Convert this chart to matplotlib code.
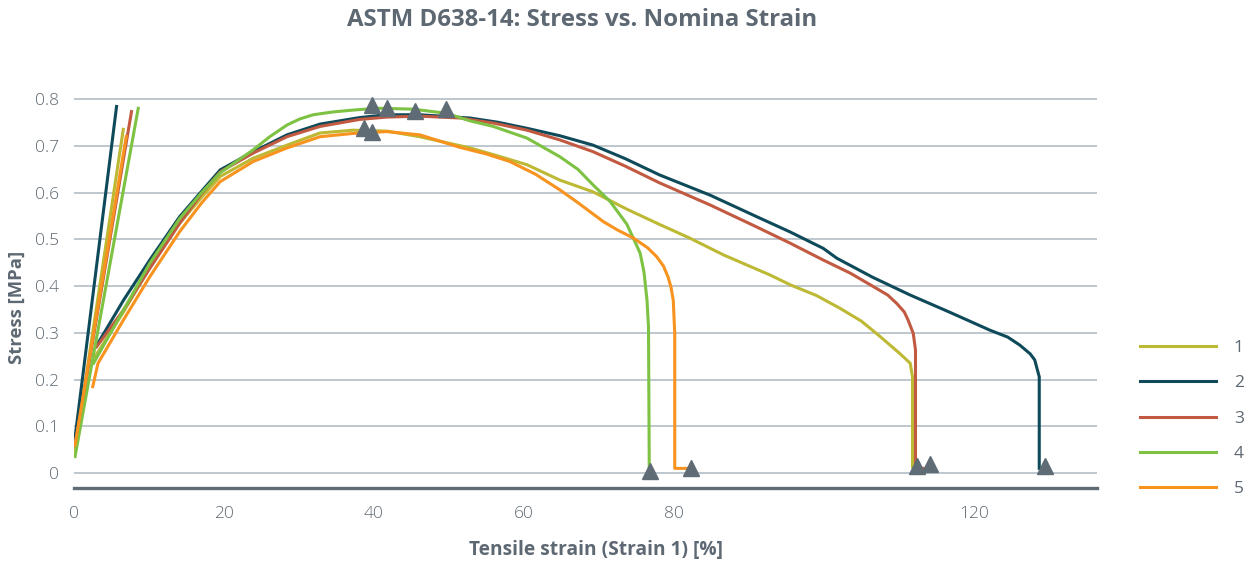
import matplotlib
matplotlib.use("Agg")
import matplotlib.pyplot as plt
import numpy as np

# ---------------- data ----------------
series_labels = ["1", "2", "3", "4", "5"]
series_colors = ["#bdb934", "#0e4a5a", "#c25a42", "#7dc242", "#f7931e"]

# elastic (modulus) line segments: strain, stress
elastic_strain = [[0.1, 6.6], [0.1, 5.7], [0.1, 7.7], [0.1, 8.6], [0.1, 7.0]]
elastic_stress = [[0.045, 0.739], [0.071, 0.788], [0.055, 0.777], [0.032, 0.784], [0.056, 0.724]]

s1_strain = [2.8, 6.6, 10.1, 14.1, 17.0, 19.5, 23.9, 28.4, 32.8, 37.2, 41.7, 46.1, 52.8, 56.5, 60.4, 64.8,
             69.2, 73.7, 78.1, 82.1, 86.6, 92.8, 95.5, 99.0, 102.1, 105.0, 107.5, 110.1, 111.5, 111.8, 111.8]
s1_stress = [0.249, 0.345, 0.440, 0.535, 0.590, 0.635, 0.674, 0.702, 0.728, 0.734, 0.732, 0.720, 0.696, 0.679, 0.660, 0.627,
             0.602, 0.565, 0.532, 0.503, 0.467, 0.424, 0.403, 0.380, 0.353, 0.325, 0.292, 0.256, 0.235, 0.206, 0.013]

s2_strain = [3.2, 6.6, 10.1, 14.1, 17.0, 19.5, 23.9, 28.4, 32.8, 38.1, 41.7, 46.1, 52.8, 56.5, 60.4, 64.8, 69.2,
             73.5, 78.1, 84.8, 91.0, 95.5, 99.9, 101.7, 106.5, 111.5, 116.8, 122.1, 124.5, 126.1, 127.5, 128.1,
             128.7, 128.7]
s2_stress = [0.278, 0.370, 0.456, 0.549, 0.603, 0.649, 0.688, 0.724, 0.747, 0.761, 0.767, 0.767, 0.760, 0.751, 0.738,
             0.722, 0.702, 0.673, 0.638, 0.595, 0.549, 0.516, 0.481, 0.460, 0.419, 0.381, 0.344, 0.306, 0.291,
             0.274, 0.255, 0.242, 0.206, 0.010]

s3_strain = [3.0, 6.6, 10.1, 14.1, 17.0, 19.5, 23.9, 28.4, 32.8, 38.1, 41.7, 46.1, 51.5, 56.0, 60.4, 64.8, 69.2,
             73.5, 78.1, 84.8, 91.0, 95.5, 99.9, 103.5, 106.6, 108.5, 109.7, 110.7, 111.2, 111.9, 112.2, 112.2,
             113.2]
s3_stress = [0.270, 0.349, 0.438, 0.535, 0.598, 0.645, 0.685, 0.720, 0.742, 0.757, 0.762, 0.764, 0.760, 0.749,
             0.734, 0.713, 0.688, 0.657, 0.621, 0.574, 0.527, 0.492, 0.456, 0.428, 0.399, 0.381, 0.363, 0.345,
             0.328, 0.299, 0.263, 0.010, 0.010]

s4_strain = [2.6, 6.6, 10.1, 14.1, 17.0, 19.5, 23.9, 26.1, 28.4, 30.1, 31.9, 34.5, 37.2, 40.4, 45.2, 49.7, 52.8,
             55.9, 60.4, 64.8, 67.2, 69.2, 71.5, 73.7, 75.0, 75.5, 76.0, 76.4, 76.6, 76.7]
s4_stress = [0.235, 0.349, 0.449, 0.545, 0.600, 0.643, 0.692, 0.720, 0.745, 0.758, 0.767, 0.773, 0.777, 0.781,
             0.779, 0.770, 0.754, 0.742, 0.717, 0.677, 0.650, 0.617, 0.581, 0.533, 0.488, 0.470, 0.430, 0.370,
             0.313, 0.013]

s5_strain = [2.5, 3.2, 6.6, 10.1, 14.1, 17.0, 19.5, 23.9, 28.4, 32.8, 37.2, 41.7, 46.1, 51.5, 55.0, 58.1,
             61.5, 64.8, 67.0, 70.6, 72.5, 74.6, 76.5, 77.7, 78.6, 79.2, 79.6, 79.9, 80.1, 80.1, 81.9]
s5_stress = [0.185, 0.235, 0.328, 0.420, 0.517, 0.578, 0.624, 0.667, 0.696, 0.720, 0.727, 0.731, 0.724, 0.697,
             0.683, 0.667, 0.640, 0.606, 0.581, 0.538, 0.520, 0.503, 0.482, 0.463, 0.443, 0.420, 0.398, 0.370,
             0.299, 0.010, 0.010]

break_strain = [39.7, 41.7, 45.5, 49.6, 38.7, 39.7, 76.8, 82.2, 112.4, 114.1, 129.5]
break_stress = [0.788, 0.781, 0.774, 0.779, 0.738, 0.731, 0.004, 0.010, 0.016, 0.019, 0.016]

x_ticks = [0, 20, 40, 60, 80, 120]
y_ticks = [0, 0.1, 0.2, 0.3, 0.4, 0.5, 0.6, 0.7, 0.8]
y_ticklabels = ["0", "0.1", "0.2", "0.3", "0.4", "0.5", "0.6", "0.7", "0.8"]

curves_strain = [s1_strain, s2_strain, s3_strain, s4_strain, s5_strain]
curves_stress = [s1_stress, s2_stress, s3_stress, s4_stress, s5_stress]

# ---------------- style ----------------
text_color = "#5d6872"
grid_color = "#b3bec6"
plt.rcParams['font.family'] = ['Open Sans', 'DejaVu Sans']

fig = plt.figure(figsize=(12.52, 5.66), dpi=100)
ax = fig.add_axes([74 / 1252, 1 - 488 / 566, (1097 - 74) / 1252, (488 - 90) / 566])

lw = 2.2
for i in range(5):
    ax.plot(elastic_strain[i], elastic_stress[i], color=series_colors[i], lw=lw,
            solid_capstyle='butt', zorder=3)
    ax.plot(curves_strain[i], curves_stress[i], color=series_colors[i], lw=lw,
            solid_joinstyle='round', label=series_labels[i], zorder=3)

ax.plot(break_strain, break_stress, linestyle='none', marker='^', markersize=11,
        color="#5f6b75", zorder=5, clip_on=False)

ax.set_xlim(0, 136.4)
ax.set_ylim(-0.032, 0.82)
ax.set_xticks(x_ticks)
ax.set_xticklabels([str(t) for t in x_ticks])
ax.set_yticks(y_ticks)
ax.set_yticklabels(y_ticklabels)
ax.tick_params(axis='both', length=0, labelsize=12.5, labelcolor=text_color)
ax.tick_params(axis='x', pad=13)
ax.tick_params(axis='y', pad=11)
for lab in ax.get_xticklabels() + ax.get_yticklabels():
    lab.set_fontweight('light')

ax.grid(axis='y', color=grid_color, lw=1.2)
ax.set_axisbelow(True)
for s in ['top', 'right', 'left']:
    ax.spines[s].set_visible(False)
ax.spines['bottom'].set_color("#5f6b75")
ax.spines['bottom'].set_linewidth(2.4)

ax.set_xlabel("Tensile strain (Strain 1) [%]", fontsize=13.8, fontweight='bold',
              color=text_color)
ax.xaxis.set_label_coords((596 - 74) / 1023, (488 - 540) / 398)
ax.set_ylabel("Stress [MPa]", fontsize=13.3, fontweight='bold', color=text_color)
ax.yaxis.set_label_coords((26 - 74) / 1023, (488 - 307) / 398)

fig.suptitle("ASTM D638-14: Stress vs. Nomina Strain", x=582 / 1252, y=1 - 20 / 566,
             fontsize=17.3, fontweight='bold', color=text_color, va='center')

leg = fig.legend(loc='upper left', bbox_to_anchor=(1140 / 1252, 1 - 340 / 566),
                 frameon=False, fontsize=12.5, handlelength=4.4, handletextpad=1.0,
                 labelspacing=1.1, borderpad=0, borderaxespad=0)
for t in leg.get_texts():
    t.set_color(text_color)

fig.savefig("out.png", dpi=100)
